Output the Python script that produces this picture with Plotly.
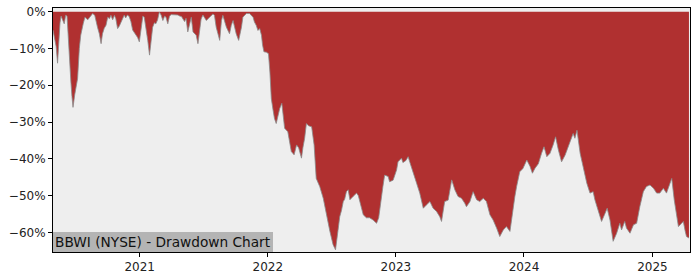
import plotly.graph_objects as go

# Drawdown readings (date, % below prior peak), grouped by year
dates_2020 = ["2020-04-29","2020-05-04","2020-05-08","2020-05-12","2020-05-15","2020-05-19","2020-05-22","2020-05-26","2020-05-31",
              "2020-06-04","2020-06-08","2020-06-11","2020-06-14","2020-06-19","2020-06-22","2020-06-25","2020-06-30",
              "2020-07-04","2020-07-08","2020-07-13","2020-07-17","2020-07-24","2020-07-29","2020-08-06","2020-08-11",
              "2020-08-20","2020-08-26","2020-08-29","2020-09-03","2020-09-08","2020-09-13","2020-09-17","2020-09-22",
              "2020-09-27","2020-10-02","2020-10-07","2020-10-11","2020-10-16","2020-10-21","2020-10-25","2020-10-30",
              "2020-11-04","2020-11-08","2020-11-13","2020-11-18","2020-11-22","2020-11-27","2020-12-02","2020-12-07",
              "2020-12-12","2020-12-21","2020-12-26","2020-12-31"]
dd_2020 = [-5.0,-7.5,-9.5,-14.0,-9.0,-3.0,-1.2,-2.0,-3.3,
           -1.0,-1.2,-6.0,-11.8,-19.1,-23.0,-26.0,-22.5,
           -20.0,-18.2,-10.0,-6.4,-3.3,-1.5,-2.2,-1.5,
           -0.5,-1.0,-2.4,-4.3,-6.0,-8.7,-6.0,-4.5,
           -3.7,-1.5,-1.9,-1.0,-2.2,-1.0,-1.9,-4.6,
           -3.9,-3.0,-2.2,-0.9,-1.7,-0.9,-1.3,-2.7,
           -5.0,-6.4,-7.0,-8.2]

dates_2021 = ["2021-01-05","2021-01-10","2021-01-14","2021-01-19","2021-01-24","2021-01-29","2021-02-02","2021-02-07",
              "2021-02-12","2021-02-16","2021-02-21","2021-02-26","2021-03-03","2021-03-08","2021-03-13","2021-03-17",
              "2021-03-22","2021-03-27","2021-04-01","2021-04-10","2021-04-20","2021-04-25","2021-04-30","2021-05-09",
              "2021-05-13","2021-05-18","2021-05-23","2021-05-28","2021-06-02","2021-06-11","2021-06-16","2021-06-21",
              "2021-06-25","2021-06-30","2021-07-10","2021-07-19","2021-07-29","2021-08-02","2021-08-07","2021-08-12",
              "2021-08-17","2021-08-22","2021-08-26","2021-09-05","2021-09-14","2021-09-19","2021-09-24","2021-10-03",
              "2021-10-10","2021-10-18","2021-10-22","2021-11-01","2021-11-10","2021-11-20","2021-11-24","2021-11-29",
              "2021-12-04","2021-12-09","2021-12-14","2021-12-17","2021-12-21","2021-12-28"]
dd_2021 = [-5.0,-1.2,-1.5,-4.2,-7.8,-11.8,-8.2,-4.2,
           -3.0,-3.3,-2.2,-0.1,-0.9,-2.4,-1.2,-1.5,
           -3.3,-1.2,-0.8,-0.8,-0.9,-1.2,-1.3,-2.7,
           -1.8,-5.5,-3.0,-1.5,-5.5,-6.4,-8.7,-4.2,
           -2.0,-0.9,-2.4,-1.5,-0.6,-1.0,-4.2,-6.0,
           -7.8,-2.4,-1.0,-4.2,-6.0,-3.7,-2.4,-6.0,
           -7.8,-4.2,-1.5,-0.5,-0.5,-1.5,-2.8,-3.7,
           -5.1,-4.6,-6.4,-9.0,-10.9,-11.0]

dates_2022 = ["2022-01-03","2022-01-07","2022-01-11","2022-01-16","2022-01-20","2022-01-25","2022-01-30","2022-02-04",
              "2022-02-10","2022-02-14","2022-02-18","2022-02-27","2022-03-05","2022-03-09","2022-03-17","2022-03-24",
              "2022-03-30","2022-04-07","2022-04-11","2022-04-16","2022-04-21","2022-04-27","2022-05-06","2022-05-09",
              "2022-05-13","2022-05-19","2022-05-29","2022-06-08","2022-06-17","2022-06-27","2022-07-06","2022-07-13",
              "2022-07-20","2022-07-25","2022-07-30","2022-08-04","2022-08-08","2022-08-13","2022-08-18","2022-08-23",
              "2022-09-01","2022-09-11","2022-09-16","2022-09-20","2022-09-25","2022-09-30","2022-10-09","2022-10-18",
              "2022-10-28","2022-11-07","2022-11-13","2022-11-21","2022-11-25","2022-11-30","2022-12-10","2022-12-14",
              "2022-12-24"]
dd_2022 = [-11.4,-16.4,-23.6,-26.7,-29.0,-30.4,-28.5,-26.3,
           -24.9,-28.0,-31.7,-32.6,-35.5,-38.0,-38.9,-36.2,
           -37.0,-39.8,-37.0,-34.4,-30.4,-31.0,-31.3,-33.5,
           -36.2,-45.3,-47.5,-50.7,-55.2,-59.7,-63.3,-64.7,
           -59.5,-55.7,-54.0,-51.6,-51.0,-48.9,-48.4,-51.1,
           -50.2,-49.3,-50.0,-51.5,-53.0,-55.2,-56.0,-56.0,
           -56.6,-57.5,-56.0,-49.3,-47.5,-44.4,-44.8,-46.2,
           -45.8]

dates_2023 = ["2023-01-03","2023-01-07","2023-01-17","2023-01-21","2023-01-29","2023-02-05","2023-02-10","2023-02-19",
              "2023-03-01","2023-03-10","2023-03-20","2023-03-29","2023-04-08","2023-04-17","2023-04-27","2023-05-06",
              "2023-05-11","2023-05-20","2023-05-30","2023-06-09","2023-06-18","2023-06-27","2023-07-07","2023-07-16",
              "2023-07-21","2023-07-31","2023-08-09","2023-08-19","2023-08-28","2023-09-07","2023-09-16","2023-09-26",
              "2023-10-05","2023-10-15","2023-10-24","2023-11-03","2023-11-12","2023-11-22","2023-11-27","2023-12-06",
              "2023-12-11","2023-12-16","2023-12-20","2023-12-29"]
dd_2023 = [-43.0,-40.8,-39.8,-41.0,-40.5,-39.4,-41.0,-43.9,
           -46.6,-49.3,-53.4,-52.5,-51.6,-53.4,-54.3,-55.7,
           -57.0,-51.6,-51.2,-45.7,-48.4,-50.2,-50.7,-52.0,
           -53.0,-51.6,-48.9,-51.1,-51.6,-50.7,-51.6,-55.2,
           -56.6,-58.8,-61.1,-59.3,-58.4,-59.7,-55.7,-50.2,
           -47.5,-45.7,-43.5,-42.6]

dates_2024 = ["2024-01-09","2024-01-18","2024-01-25","2024-02-01","2024-02-11","2024-02-20","2024-02-27","2024-03-06",
              "2024-03-15","2024-03-24","2024-03-31","2024-04-08","2024-04-17","2024-04-27","2024-05-06","2024-05-16",
              "2024-05-20","2024-05-25","2024-05-31","2024-06-09","2024-06-18","2024-06-28","2024-07-07","2024-07-16",
              "2024-07-21","2024-07-31","2024-08-09","2024-08-19","2024-08-25","2024-09-02","2024-09-11","2024-09-21",
              "2024-09-30","2024-10-05","2024-10-14","2024-10-19","2024-10-29","2024-11-08","2024-11-17","2024-11-26",
              "2024-12-06","2024-12-15","2024-12-25"]
dd_2024 = [-40.3,-42.0,-43.9,-42.6,-41.3,-38.5,-36.7,-39.4,
           -38.5,-36.2,-34.0,-37.6,-40.8,-39.0,-36.7,-34.0,
           -33.1,-34.4,-32.2,-38.5,-42.2,-46.6,-49.3,-48.9,
           -51.1,-53.9,-57.0,-54.8,-53.4,-56.6,-62.4,-60.2,
           -57.5,-59.3,-57.0,-58.8,-60.2,-57.9,-57.5,-53.0,
           -48.9,-47.5,-47.1]

dates_2025 = ["2025-01-04","2025-01-13","2025-01-22","2025-02-01","2025-02-10","2025-02-20","2025-02-25","2025-03-04",
              "2025-03-11","2025-03-16","2025-03-25","2025-03-30","2025-04-04","2025-04-08","2025-04-15"]
dd_2025 = [-48.0,-49.3,-49.3,-48.0,-49.3,-46.6,-45.3,-51.1,
           -55.7,-58.4,-57.5,-57.0,-59.5,-61.1,-61.5]

y_ticks = [0, -10, -20, -30, -40, -50, -60]
y_tick_labels = ["0%", "\u221210%", "\u221220%", "\u221230%", "\u221240%", "\u221250%", "\u221260%"]
x_ticks = ["2021-01-01", "2022-01-01", "2023-01-01", "2024-01-01", "2025-01-01"]
x_tick_labels = ["2021", "2022", "2023", "2024", "2025"]
title_text = "BBWI (NYSE) - Drawdown Chart"

dates = dates_2020 + dates_2021 + dates_2022 + dates_2023 + dates_2024 + dates_2025
dd = dd_2020 + dd_2021 + dd_2022 + dd_2023 + dd_2024 + dd_2025

fig = go.Figure()
fig.add_trace(go.Scatter(
    x=dates, y=dd, mode="lines", fill="tozeroy",
    fillcolor="#b03030", line=dict(color="#8a8a8a", width=0.8),
    hoverinfo="skip", showlegend=False,
))

font_family = "DejaVu Sans"
fig.update_layout(
    width=700, height=280,
    margin=dict(l=53, r=10, t=8, b=28, autoexpand=False),
    paper_bgcolor="white", plot_bgcolor="#eeeeee",
    font=dict(family=font_family, size=12, color="#222222"),
    xaxis=dict(
        range=["2020-04-29", "2025-04-18"],
        tickvals=x_ticks, ticktext=x_tick_labels,
        showgrid=False, zeroline=False, automargin=False,
        showline=True, mirror=True, linecolor="black", linewidth=1,
        ticks="outside", ticklen=4, tickcolor="black",
        tickfont=dict(size=12, color="#222222"),
    ),
    yaxis=dict(
        range=[-65.3, 1.0],
        tickvals=y_ticks, ticktext=y_tick_labels,
        showgrid=False, zeroline=False, automargin=False,
        showline=True, mirror=True, linecolor="black", linewidth=1,
        ticks="outside", ticklen=4, tickcolor="black",
        tickfont=dict(size=12, color="#222222"),
    ),
    annotations=[dict(
        text=title_text, xref="paper", yref="paper", x=0, y=0,
        xanchor="left", yanchor="bottom", showarrow=False,
        font=dict(family=font_family, size=13.7, color="#111111"),
        bgcolor="#b4b4b4", borderpad=2, borderwidth=0,
    )],
)

fig.write_html("out.html")
